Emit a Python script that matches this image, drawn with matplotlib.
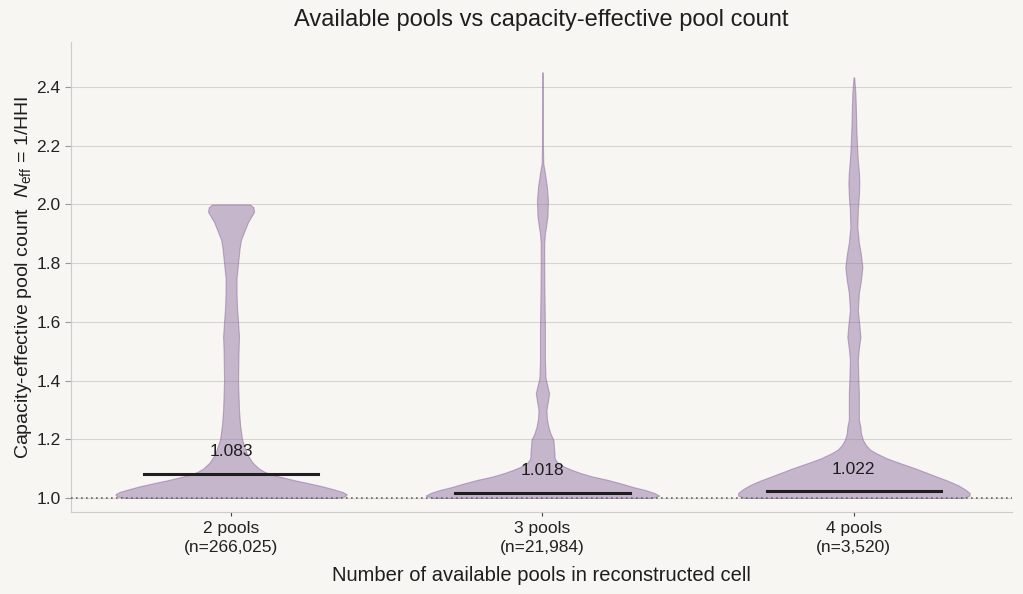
import numpy as np
import matplotlib
matplotlib.use("Agg")
import matplotlib.pyplot as plt

plt.rcParams['font.family'] = ['Liberation Sans', 'DejaVu Sans']
plt.rcParams['mathtext.fontset'] = 'custom'
plt.rcParams['mathtext.rm'] = 'Liberation Sans'
plt.rcParams['mathtext.it'] = 'Liberation Sans:italic'

# categories
groups = ['2 pools', '3 pools', '4 pools']
counts = [266025, 21984, 3520]
medians = [1.083, 1.018, 1.022]

# violin outlines: N_eff level and relative density (1 = widest)
lev_2 = [1.000, 1.005, 1.012, 1.02, 1.03, 1.04, 1.05, 1.06, 1.07, 1.08, 1.09, 1.10,
         1.12, 1.15, 1.20, 1.25, 1.30, 1.40, 1.50, 1.55, 1.60, 1.65, 1.70, 1.75,
         1.80, 1.85, 1.88, 1.91, 1.94, 1.96, 1.975, 1.99, 2.00]
dens_2 = [0.906, 0.974, 0.991, 0.957, 0.872, 0.778, 0.667, 0.547, 0.444, 0.342, 0.282, 0.239,
          0.185, 0.135, 0.094, 0.077, 0.068, 0.060, 0.064, 0.068, 0.060, 0.051, 0.047, 0.047,
          0.060, 0.073, 0.085, 0.115, 0.145, 0.175, 0.197, 0.192, 0.162]

lev_3 = [1.000, 1.008, 1.017, 1.027, 1.037, 1.05, 1.061, 1.073, 1.085, 1.095, 1.106, 1.118,
         1.129, 1.14, 1.153, 1.175, 1.198, 1.22, 1.242, 1.27, 1.30, 1.33, 1.357, 1.38,
         1.41, 1.47, 1.58, 1.70, 1.80, 1.868, 1.90, 1.923, 1.96, 2.015, 2.06, 2.107,
         2.14, 2.20, 2.45]
dens_3 = [0.940, 1.000, 0.957, 0.880, 0.778, 0.667, 0.564, 0.427, 0.325, 0.256, 0.188, 0.137,
          0.111, 0.103, 0.103, 0.098, 0.094, 0.068, 0.051, 0.038, 0.034, 0.047, 0.057, 0.043,
          0.026, 0.021, 0.021, 0.017, 0.015, 0.015, 0.021, 0.030, 0.043, 0.047, 0.038, 0.021,
          0.007, 0.004, 0.003]

lev_4 = [1.000, 1.008, 1.017, 1.03, 1.044, 1.06, 1.078, 1.10, 1.119, 1.135, 1.153, 1.165,
         1.18, 1.198, 1.221, 1.242, 1.266, 1.31, 1.357, 1.41, 1.47, 1.51, 1.548, 1.59,
         1.64, 1.698, 1.74, 1.787, 1.83, 1.87, 1.923, 1.98, 2.03, 2.073, 2.11, 2.151,
         2.20, 2.264, 2.33, 2.38, 2.433]
dens_4 = [0.940, 0.991, 0.991, 0.949, 0.889, 0.795, 0.675, 0.530, 0.393, 0.282, 0.188, 0.137,
          0.103, 0.077, 0.060, 0.056, 0.043, 0.043, 0.043, 0.038, 0.034, 0.043, 0.056, 0.047,
          0.034, 0.043, 0.060, 0.073, 0.060, 0.043, 0.030, 0.034, 0.043, 0.047, 0.043, 0.034,
          0.027, 0.021, 0.017, 0.013, 0.003]

levels = [lev_2, lev_3, lev_4]
densities = [dens_2, dens_3, dens_4]

bg = '#f7f6f3'
fig = plt.figure(figsize=(10.23, 5.94), dpi=100, facecolor=bg)
ax = fig.add_axes([0.0694, 0.138, 0.9196, 0.791], facecolor=bg)

half = 0.375
for i, (lv, dn) in enumerate(zip(levels, densities)):
    lv = np.array(lv)
    dn = np.array(dn) * half
    ax.fill_betweenx(lv, i - dn, i + dn, facecolor='#8c6a9e', alpha=0.45,
                     edgecolor='#7d5a90', linewidth=0.8, zorder=2)
    ax.plot([i - 0.28, i + 0.28], [medians[i], medians[i]], color='#1e1e1e', lw=2.2, zorder=4)
    ax.text(i, medians[i] + 0.076, f'{medians[i]:.3f}', ha='center', va='center',
            fontsize=12.5, color='#1e1e1e', zorder=5)

ax.axhline(1.0, color='#666666', lw=1.2, ls=(0, (1, 2)), zorder=3)

ax.set_xlim(-0.514, 2.507)
ax.set_ylim(0.952, 2.553)
ax.set_yticks([1.0, 1.2, 1.4, 1.6, 1.8, 2.0, 2.2, 2.4])
ax.set_xticks(range(len(groups)))
ax.set_xticklabels([f'{g}\n(n={n:,})' for g, n in zip(groups, counts)], fontsize=12.5, color='#222222',
                   linespacing=1.3)
ax.tick_params(axis='y', labelsize=12.5, labelcolor='#222222', color='#999999', length=4)
ax.tick_params(axis='x', color='#444444', length=3)
ax.grid(axis='y', color='#d6d4d1', lw=0.8, zorder=0)
ax.set_axisbelow(True)
for s in ['top', 'right']:
    ax.spines[s].set_visible(False)
for s in ['left', 'bottom']:
    ax.spines[s].set_color('#cccccc')

ax.set_xlabel('Number of available pools in reconstructed cell', fontsize=14.5, color='#1e1e1e', labelpad=8)
ax.set_ylabel('Capacity-effective pool count  $N_{\\mathrm{eff}}$ = 1/HHI', fontsize=14, color='#1e1e1e',
              labelpad=2)
ax.set_title('Available pools vs capacity-effective pool count', fontsize=17, color='#1e1e1e', pad=12)

fig.savefig('out.png', dpi=100, facecolor=bg)
